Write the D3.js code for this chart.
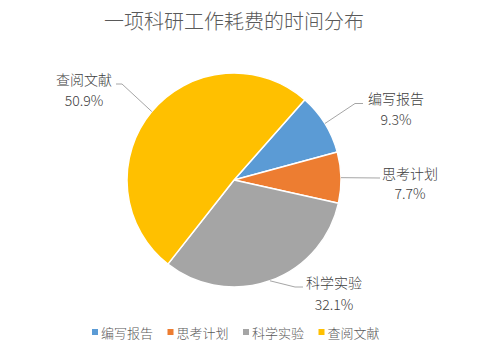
<!DOCTYPE html>
<html><head><meta charset="utf-8">
<script src="https://cdn.jsdelivr.net/npm/d3@7"></script>
<style>
html,body{margin:0;padding:0;background:#fff;}
svg{display:block;}
.cjk{font-family:"Noto Sans CJK SC",sans-serif;font-weight:300;}
</style></head>
<body><svg id="c" width="498" height="349"></svg>
<script>
// ---- data ----
const categories = ["编写报告", "思考计划", "科学实验", "查阅文献"];
const values = [9.3, 7.7, 32.1, 50.9];
const colors = ["#5B9BD5", "#ED7D31", "#A5A5A5", "#FFC000"];
const title = "一项科研工作耗费的时间分布";

// ---- layout (positions, separate from data) ----
const W = 498, H = 349;
const cx = 234, cy = 180, R = 107;
const startDeg = 41.4;
const labelLayout = [
  {x: 396, y1: 104, y2: 125, elbow: [[355, 103.5], [363, 103.5]]},
  {x: 410, y1: 179, y2: 199, elbow: [[380, 178]]},
  {x: 334, y1: 288, y2: 310, elbow: [[295, 287], [303, 287]]},
  {x: 84,  y1: 85,  y2: 106, elbow: [[122, 84], [116, 84]]}
];

const svg = d3.select("#c");
svg.append("rect").attr("width", W).attr("height", H).attr("fill", "#fff");

svg.append("text").attr("class", "cjk").attr("x", 234).attr("y", 29).attr("text-anchor", "middle")
  .attr("font-size", 20).attr("fill", "#595959").text(title);

const data = categories.map((c, i) => ({name: c, value: values[i], color: colors[i]}));
const pie = d3.pie().value(d => d.value).sort(null)
  .startAngle(startDeg * Math.PI / 180)
  .endAngle(startDeg * Math.PI / 180 + 2 * Math.PI);
const arcs = pie(data);
const arc = d3.arc().innerRadius(0).outerRadius(R);

const g = svg.append("g").attr("transform", `translate(${cx},${cy})`);
g.selectAll("path").data(arcs).enter().append("path")
  .attr("d", arc).attr("fill", d => d.data.color)
  .attr("stroke", "#fff").attr("stroke-width", 1.5).attr("stroke-linejoin", "round");

arcs.forEach((a, i) => {
  const mid = (a.startAngle + a.endAngle) / 2;
  const ex = cx + R * Math.sin(mid), ey = cy - R * Math.cos(mid);
  const L = labelLayout[i];
  const pts = [[ex, ey]].concat(L.elbow);
  svg.append("path").attr("d", d3.line()(pts)).attr("fill", "none")
    .attr("stroke", "#A6A6A6").attr("stroke-width", 1);
  svg.append("text").attr("class", "cjk").attr("x", L.x).attr("y", L.y1).attr("text-anchor", "middle")
    .attr("font-size", 14).attr("fill", "#404040").text(a.data.name);
  svg.append("text").attr("class", "cjk").attr("x", L.x).attr("y", L.y2).attr("text-anchor", "middle")
    .attr("font-size", 14).attr("fill", "#404040")
    .text(d3.format(".1f")(a.data.value) + "%");
});

const legendX0 = 92, legendStep = 75.5, legendY = 332;
const lg = svg.append("g");
data.forEach((d, i) => {
  const x = legendX0 + i * legendStep;
  lg.append("rect").attr("x", x).attr("y", legendY - 3).attr("width", 6).attr("height", 6).attr("fill", d.color);
  lg.append("text").attr("class", "cjk").attr("x", x + 9).attr("y", legendY + 5.5).attr("font-size", 13).attr("fill", "#595959")
    .text(d.name);
});
</script></body></html>
